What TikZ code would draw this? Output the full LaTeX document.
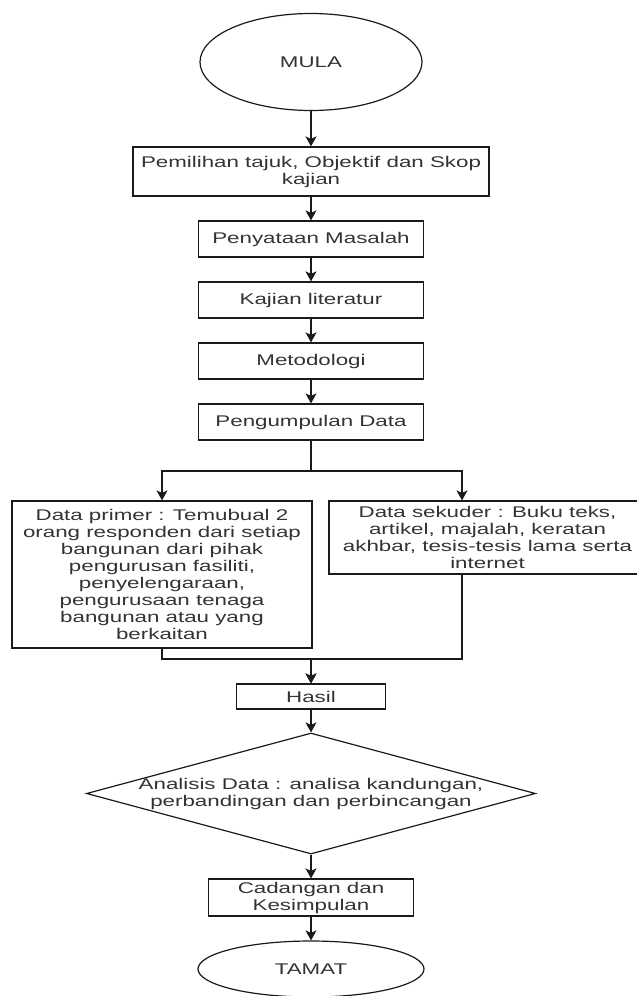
\documentclass[tikz,border=0pt]{standalone}
\usepackage{fontspec}
\setmainfont{Liberation Sans}[FakeStretch=1.44]
\usetikzlibrary{shapes,arrows,arrows.meta}
\definecolor{txtgray}{HTML}{333333}
\definecolor{linegray}{HTML}{1A1A1A}
\tikzstyle{block} = [rectangle, draw=linegray, line width=1.2pt, text=txtgray,
    align=center, inner sep=1pt, font=\fontsize{15.5}{17}\selectfont]
\tikzstyle{terminal} = [ellipse, draw=linegray, line width=1.2pt, text=txtgray,
    inner sep=0pt, font=\fontsize{15.5}{17}\selectfont]
\tikzstyle{decision} = [diamond, draw=linegray, line width=1.2pt, inner sep=0pt]
\tikzstyle{txt} = [text=txtgray, align=center, inner sep=0pt,
    font=\fontsize{15.5}{17}\selectfont]
\tikzstyle{link} = [draw=linegray, line width=1.2pt]
\tikzstyle{line} = [draw=linegray, line width=1.2pt,
    -{Stealth[length=10pt, width=11pt, inset=2.5pt]}]

\begin{document}
\begin{tikzpicture}[x=1pt, y=1pt, node distance=61pt]
    \useasboundingbox (0,0) rectangle (637,-996);
    \clip (0,0) rectangle (637,-996);
    % Place nodes
    \node [terminal, minimum width=222pt, minimum height=97pt] (mula) at (311,-62) {MULA};
    \node [block, below of=mula, node distance=109.5pt, minimum width=356pt, minimum height=49pt] (tajuk)
        {Pemilihan tajuk, Objektif dan Skop\\kajian};
    \node [block, below of=tajuk, node distance=67.5pt, minimum width=225pt, minimum height=36pt] (masalah)
        {Penyataan Masalah};
    \node [block, below of=masalah, minimum width=225pt, minimum height=36pt] (literatur)
        {Kajian literatur};
    \node [block, below of=literatur, minimum width=225pt, minimum height=36pt] (metodologi)
        {Metodologi};
    \node [block, below of=metodologi, minimum width=225pt, minimum height=36pt] (kumpul)
        {Pengumpulan Data};
    \node [block, minimum width=300pt, minimum height=147pt] (primer) at (162,-574.5)
        {Data primer : Temubual 2\\orang responden dari setiap\\bangunan dari pihak\\pengurusan fasiliti,\\penyelengaraan,\\pengurusaan tenaga\\bangunan atau yang\\berkaitan};
    \node [block, minimum width=317pt, minimum height=73pt] (sekunder) at (487.5,-537.5)
        {Data sekuder : Buku teks,\\artikel, majalah, keratan\\akhbar, tesis-tesis lama serta\\internet};
    \node [block, below of=kumpul, node distance=274.5pt, minimum width=149pt, minimum height=25pt] (hasil)
        {Hasil};
    \node [decision, below of=hasil, node distance=97pt, minimum width=449pt, minimum height=121pt] (analisis) {};
    \node [txt] (analisistxt) at (analisis) {Analisis Data : analisa kandungan,\\perbandingan dan perbincangan};
    \node [block, below of=analisis, node distance=104pt, minimum width=205pt, minimum height=37pt] (cadangan)
        {Cadangan dan\\Kesimpulan};
    \node [terminal, below of=cadangan, node distance=71.5pt, minimum width=226pt, minimum height=56pt] (tamat)
        {TAMAT};
    \coordinate (split) at (311,-471);
    \coordinate (rsplit) at (462,-471);
    \coordinate (merge) at (311,-659);
    % Draw edges
    \path [line] (mula) -- (tajuk);
    \path [line] (tajuk) -- (masalah);
    \path [line] (masalah) -- (literatur);
    \path [line] (literatur) -- (metodologi);
    \path [line] (metodologi) -- (kumpul);
    \path [link] (kumpul) -- (split);
    \path [line] (split) -| (primer.north);
    \path [line] (split) -- (rsplit) -- (rsplit |- sekunder.north);
    \path [line] (primer.south) |- (merge) -- (hasil.north);
    \path [line] (rsplit |- sekunder.south) |- (merge) -- (hasil.north);
    \path [line] (hasil) -- (analisis);
    \path [line] (analisis) -- (cadangan);
    \path [line] (cadangan) -- (tamat);
\end{tikzpicture}
\end{document}
